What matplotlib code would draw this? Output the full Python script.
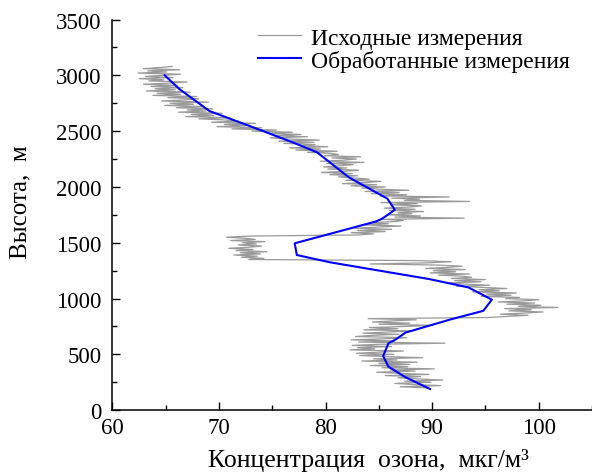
import numpy as np
import matplotlib
matplotlib.use("Agg")
import matplotlib.pyplot as plt
from matplotlib.ticker import MultipleLocator

plt.rcParams['font.family'] = ['Liberation Serif', 'DejaVu Serif']

# raw measurements, one value every 10 m starting at 200 m
raw_start, raw_step = 200, 10
raw_ozone = [
    89.5, 87.0, 90.8, 88.2, 86.5, 89.9, 87.4, 91.0, 88.6, 86.8,   # 200
    88.9, 85.6, 89.7, 86.9, 84.8, 88.4, 86.1, 90.2, 85.3, 87.7,   # 300
    84.2, 87.9, 85.0, 88.6, 83.4, 86.7, 84.5, 89.1, 85.8, 83.2,   # 400
    86.4, 82.9, 85.1, 87.3, 82.3, 84.6, 83.0, 86.2, 82.5, 84.9,   # 500
    91.2, 83.1, 86.5, 82.4, 85.7, 87.6, 82.8, 84.3, 86.9, 83.5,   # 600
    85.9, 88.2, 83.6, 86.8, 84.1, 87.4, 90.1, 85.0, 87.9, 84.4,   # 700
    86.3, 88.5, 84.0, 95.2, 97.1, 99.0, 96.4, 98.6, 100.4, 97.2,  # 800
    99.3, 96.8, 101.8, 98.1, 100.2, 97.0, 99.6, 96.2, 98.7, 100.0,  # 900
    96.9, 98.2, 94.6, 97.4, 95.1, 97.9, 93.8, 96.3, 94.4, 97.0,   # 1000
    94.8, 92.3, 95.4, 93.0, 91.4, 94.6, 92.1, 95.0, 91.8, 93.7,   # 1100
    92.9, 90.6, 93.5, 89.8, 92.2, 90.1, 93.1, 89.4, 91.6, 92.8,   # 1200
    90.5, 84.2, 89.6, 91.8, 88.7, 72.8, 74.2, 72.1, 73.6, 71.4,   # 1300
    73.9, 72.0, 74.5, 71.6, 73.2, 70.9, 72.8, 74.0, 71.8, 73.5,   # 1400
    72.2, 74.3, 71.1, 73.4, 72.5, 70.7, 73.0, 83.1, 84.5, 82.4,   # 1500
    85.6, 83.0, 86.2, 82.7, 84.8, 87.1, 83.4, 85.9, 84.1, 86.6,   # 1600
    87.3, 85.4, 93.0, 86.5, 88.9, 85.9, 88.1, 86.8, 89.2, 86.0,   # 1700
    88.4, 85.5, 87.9, 89.0, 86.1, 88.6, 85.2, 93.5, 87.4, 88.8,   # 1800
    86.2, 91.6, 85.1, 87.6, 84.3, 86.9, 83.7, 87.8, 85.0, 83.4,   # 1900
    85.6, 82.4, 84.8, 81.6, 83.9, 85.2, 81.9, 84.1, 82.6, 81.2,   # 2000
    83.0, 80.4, 82.5, 79.6, 81.8, 83.1, 80.2, 82.0, 79.8, 81.4,   # 2100
    82.6, 80.1, 83.6, 79.5, 81.7, 82.9, 80.6, 83.3, 79.9, 81.2,   # 2200
    80.6, 78.3, 81.1, 77.2, 79.5, 76.6, 80.2, 77.8, 79.0, 76.1,   # 2300
    78.9, 75.6, 79.4, 76.4, 74.8, 78.3, 75.2, 77.7, 74.6, 76.9,   # 2400
    73.1, 75.4, 71.2, 74.0, 69.8, 72.6, 70.5, 73.4, 69.3, 71.8,   # 2500
    70.6, 68.1, 71.0, 66.9, 69.5, 67.4, 70.3, 66.2, 68.8, 67.0,   # 2600
    69.4, 66.0, 68.5, 64.9, 67.6, 65.4, 69.0, 64.6, 66.8, 68.1,   # 2700
    65.2, 67.9, 63.8, 66.4, 64.2, 67.3, 63.2, 65.9, 64.0, 66.6,   # 2800
    63.6, 66.1, 62.9, 65.3, 67.0, 63.4, 64.8, 62.5, 65.7, 63.1,   # 2900
    64.7, 66.4, 62.4, 65.1, 63.3, 66.3, 62.9, 64.5, 65.6,         # 3000
]
raw_height = raw_start + raw_step * np.arange(len(raw_ozone))

# processed (smoothed) profile
proc_height = [190, 295, 390, 485, 600, 635, 695, 815, 890, 990, 1100,
               1175, 1325, 1390, 1495, 1690, 1715, 1795, 1895, 2085,
               2310, 2400, 2545, 2580, 2680, 2875, 3000]
proc_ozone = [89.8, 87.5, 85.9, 85.4, 85.9, 86.6, 87.5, 91.8, 94.8, 95.6, 93.4,
              89.7, 80.4, 77.3, 77.1, 84.7, 85.3, 86.5, 85.8, 82.2,
              79.2, 76.9, 72.9, 71.9, 69.1, 66.3, 64.9]

fig = plt.figure(figsize=(5.92, 4.77), dpi=100)
ax = fig.add_axes([0.19, 0.138, 0.81, 0.819])

ax.plot(raw_ozone, raw_height, color='#9a9a9a', lw=0.9, label='Исходные измерения')
ax.plot(proc_ozone, proc_height, color='#0000ff', lw=1.5, label='Обработанные измерения')

ax.set_xlim(60, 105)
ax.set_ylim(0, 3500)
ax.xaxis.set_major_locator(MultipleLocator(10))
ax.xaxis.set_minor_locator(MultipleLocator(5))
ax.yaxis.set_major_locator(MultipleLocator(500))
ax.yaxis.set_minor_locator(MultipleLocator(250))
ax.tick_params(which='both', direction='in', labelsize=16.5, width=1)
ax.tick_params(which='major', length=6)
ax.tick_params(which='minor', length=3.5)
ax.tick_params(axis='x', pad=5)
ax.tick_params(axis='y', pad=8)
for s in ['top', 'right']:
    ax.spines[s].set_visible(False)
for s in ['left', 'bottom']:
    ax.spines[s].set_linewidth(1.1)

ax.set_xlabel('Концентрация  озона,  мкг/м³', fontsize=18.5)
ax.set_ylabel('Высота,  м', fontsize=18)
ax.xaxis.set_label_coords(256 / 480, -0.098)
ax.yaxis.set_label_coords(-0.168, 0.535)

ax.legend(loc='upper left', bbox_to_anchor=(258 / 592, 1 - 28 / 477),
          bbox_transform=fig.transFigure, frameon=False, borderpad=0,
          borderaxespad=0, fontsize=17, handlelength=1.8,
          labelspacing=0.05, handletextpad=0.45)

fig.savefig('out.png', dpi=100)
